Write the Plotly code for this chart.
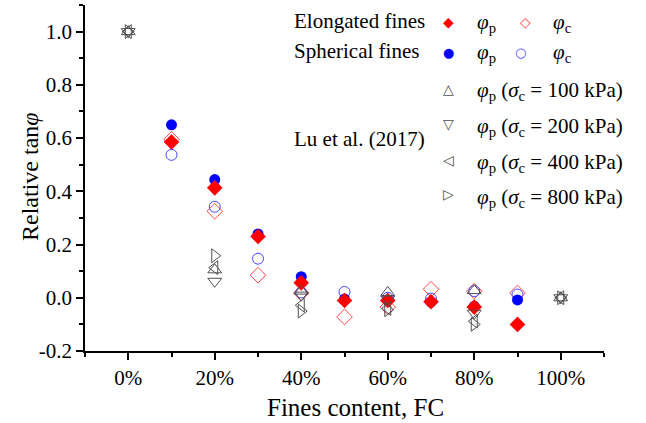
import plotly.graph_objects as go

# Fines content (%) for the two fines shapes and for Lu et al. (2017)
fc_shape = [10, 20, 30, 40, 50, 60, 70, 80, 90]
fc_lu = [0, 20, 40, 60, 80, 100]

# Relative tan(phi) values
elong_peak = [0.585, 0.413, 0.230, 0.056, -0.010, -0.010, -0.015, -0.035, -0.100]
elong_crit = [0.595, 0.325, 0.085, 0.018, -0.072, -0.035, 0.032, 0.025, 0.018]
spher_peak = [0.650, 0.444, 0.240, 0.079, -0.005, -0.008, -0.016, -0.032, -0.008]
spher_crit = [0.537, 0.342, 0.147, 0.020, 0.022, 0.000, -0.003, 0.025, 0.012]

lu_100 = [1.0, 0.105, 0.025, 0.020, 0.027, 0.0]
lu_200 = [1.0, 0.062, 0.010, -0.005, -0.058, 0.0]
lu_400 = [1.0, 0.113, -0.028, -0.040, -0.088, 0.0]
lu_800 = [1.0, 0.158, -0.050, -0.045, -0.100, 0.0]

# Axis tick labels
y_tickvals = [-0.2, 0.0, 0.2, 0.4, 0.6, 0.8, 1.0]
y_ticktext = ["-0.2", "0.0", "0.2", "0.4", "0.6", "0.8", "1.0"]
y_minorvals = [-0.1, 0.1, 0.3, 0.5, 0.7, 0.9, 1.1]
x_tickvals = [0, 20, 40, 60, 80, 100]
x_ticktext = ["0%", "20%", "40%", "60%", "80%", "100%"]
x_minorvals = [-10, 10, 30, 50, 70, 90, 110]

FONT = "Liberation Serif"
RED = "#ff0000"
BLUE = "#0000ff"
RED_LIGHT = "#ff4545"
BLUE_LIGHT = "#4545ff"
GRAY = "#505050"

fig = go.Figure()


def add(x, y, symbol, color, size, width=1.0):
    fig.add_trace(go.Scatter(
        x=x, y=y, mode="markers", showlegend=False, hoverinfo="skip",
        marker=dict(symbol=symbol, size=size, color=color,
                    line=dict(color=color, width=width)),
    ))


add(fc_shape, elong_crit, "diamond-open", RED_LIGHT, 12)
add(fc_shape, spher_crit, "circle-open", BLUE_LIGHT, 11)
add(fc_shape, spher_peak, "circle", BLUE, 11, 0)
add(fc_shape, elong_peak, "diamond", RED, 12, 0)
add(fc_lu, lu_100, "triangle-up-open", GRAY, 12)
add(fc_lu, lu_200, "triangle-down-open", GRAY, 12)
add(fc_lu, lu_400, "triangle-left-open", GRAY, 12)
add(fc_lu, lu_800, "triangle-right-open", GRAY, 12)

# Pixel frame of the plotting area, used to place the text blocks
L, R, T, B = 85, 604, 5, 351


def px(x):
    return (x - L) / (R - L)


def py(y):
    return (B - y) / (B - T)


phi_p = "<i>φ</i><sub>p</sub>"
phi_c = "<i>φ</i><sub>c</sub>"

legend_items = [
    # (text, x, y, color, size, anchor)
    ("Elongated fines", 292, 21, "black", 21, "left"),
    ("Spherical fines", 292, 51, "black", 21, "left"),
    ("Lu et al. (2017)", 292, 139, "black", 21, "left"),
    ("◆", 448, 22, RED, 14, "center"),
    ("◇", 525, 22, RED_LIGHT, 14, "center"),
    ("●", 448, 52, BLUE, 13, "center"),
    ("○", 520, 52, BLUE_LIGHT, 13, "center"),
    ("△", 448, 89, GRAY, 14, "center"),
    ("▽", 448, 124, GRAY, 14, "center"),
    ("◁", 448, 160, GRAY, 14, "center"),
    ("▷", 448, 194, GRAY, 14, "center"),
    (phi_p, 475, 23, "black", 21, "left"),
    (phi_c, 551, 23, "black", 21, "left"),
    (phi_p, 475, 53, "black", 21, "left"),
    (phi_c, 551, 53, "black", 21, "left"),
]
for i, kpa in enumerate(["100", "200", "400", "800"]):
    legend_items.append(
        (phi_p + " (<i>σ</i><sub>c</sub> = " + kpa + " kPa)",
         475, [91, 127, 163, 198][i], "black", 21, "left"))

for text, x, y, color, size, anchor in legend_items:
    fam = FONT if color == "black" else "DejaVu Sans"
    fig.add_annotation(
        x=px(x), y=py(y), xref="paper", yref="paper", text=text,
        showarrow=False, xanchor=anchor, yanchor="middle",
        font=dict(family=fam, size=size, color=color),
    )

# Axis titles
fig.add_annotation(
    x=px(355), y=py(407), xref="paper", yref="paper", text="Fines content, FC",
    showarrow=False, xanchor="center", yanchor="middle",
    font=dict(family=FONT, size=25, color="black"),
)
fig.add_annotation(
    x=px(30), y=py(177), xref="paper", yref="paper", text="Relative tan<i>φ</i>",
    showarrow=False, xanchor="center", yanchor="middle", textangle=-90,
    font=dict(family=FONT, size=24, color="black"),
)

tick_font = dict(family=FONT, size=21, color="black")

fig.update_layout(
    width=646, height=423,
    margin=dict(l=L, r=646 - R, t=T, b=423 - B),
    paper_bgcolor="white", plot_bgcolor="white",
    font=dict(family=FONT, size=21, color="black"),
    xaxis=dict(
        range=[-10, 110], tickmode="array", tickvals=x_tickvals, ticktext=x_ticktext,
        ticks="outside", ticklen=7, tickwidth=1.5, tickcolor="black",
        tickfont=tick_font,
        minor=dict(tickmode="array", tickvals=x_minorvals, ticks="outside",
                   ticklen=4, tickwidth=1.5, tickcolor="black"),
        showline=True, linecolor="black", linewidth=1.5, showgrid=False, zeroline=False,
    ),
    yaxis=dict(
        range=[-0.2, 1.1], tickmode="array", tickvals=y_tickvals, ticktext=y_ticktext,
        ticks="outside", ticklen=7, tickwidth=1.5, tickcolor="black",
        tickfont=tick_font,
        minor=dict(tickmode="array", tickvals=y_minorvals, ticks="outside",
                   ticklen=4, tickwidth=1.5, tickcolor="black"),
        showline=True, linecolor="black", linewidth=1.5, showgrid=False, zeroline=False,
    ),
)

fig.write_html("out.html")
